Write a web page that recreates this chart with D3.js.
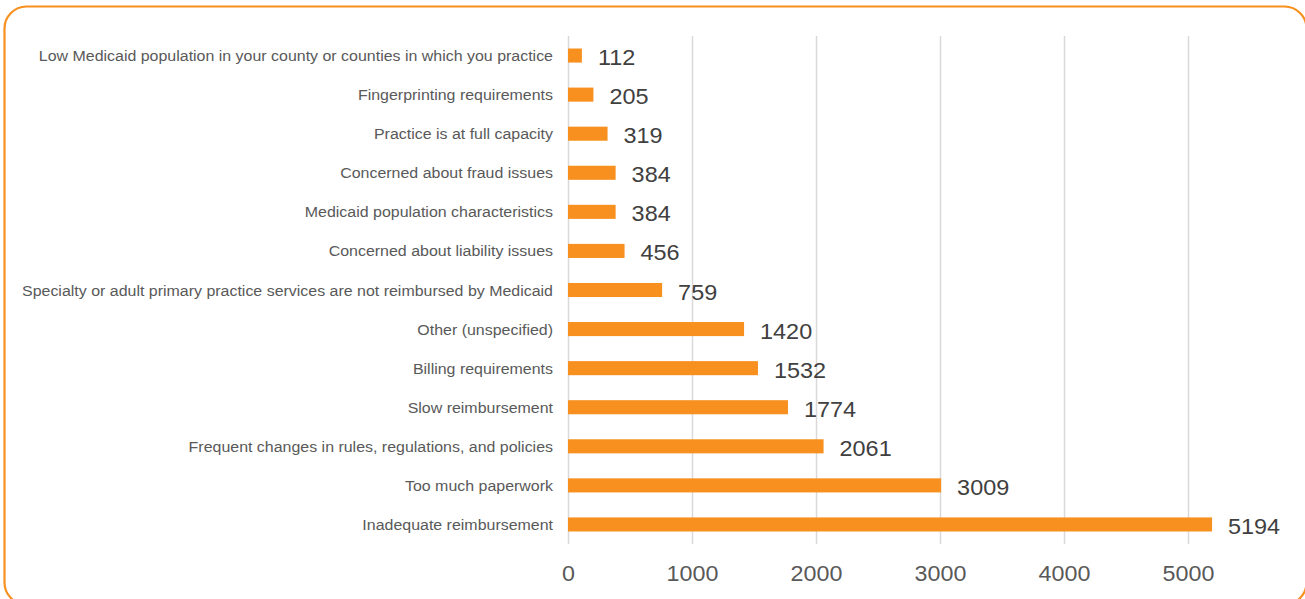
<!DOCTYPE html>
<html><head><meta charset="utf-8">
<script src="https://cdn.jsdelivr.net/npm/d3@7"></script>
<style>body{margin:0;background:#fff;}svg{display:block;font-family:"Liberation Sans",Arial,sans-serif;}</style>
</head><body><svg id="c" width="1305" height="599"></svg>
<script>
const categories = [
 "Low Medicaid population in your county or counties in which you practice",
 "Fingerprinting requirements",
 "Practice is at full capacity",
 "Concerned about fraud issues",
 "Medicaid population characteristics",
 "Concerned about liability issues",
 "Specialty or adult primary practice services are not reimbursed by Medicaid",
 "Other (unspecified)",
 "Billing requirements",
 "Slow reimbursement",
 "Frequent changes in rules, regulations, and policies",
 "Too much paperwork",
 "Inadequate reimbursement"
];
const values = [112,205,319,384,384,456,759,1420,1532,1774,2061,3009,5194];
const tickValues = [0,1000,2000,3000,4000,5000];
const FONT = "'Liberation Sans',Arial,sans-serif";

const svg = d3.select("#c");
svg.append("rect").attr("x",4.5).attr("y",6.5).attr("width",1302).attr("height",598)
  .attr("rx",22).attr("ry",22).attr("fill","none").attr("stroke","#F7901E").attr("stroke-width",2.2);

const x = d3.scaleLinear().domain([0,5000]).range([568,1188]);
const y = d3.scaleBand().domain(categories).range([36,544]).paddingInner(0.64).paddingOuter(0.32);

svg.append("g").selectAll("line").data(tickValues).join("line")
  .attr("x1",d=>x(d)+0.5).attr("x2",d=>x(d)+0.5).attr("y1",36).attr("y2",544)
  .attr("stroke","#d9d9d9").attr("stroke-width",1.5);

const ax = svg.append("g").attr("transform","translate(0,544)")
  .call(d3.axisBottom(x).tickValues(tickValues).tickSize(0).tickPadding(0).tickFormat(d3.format("d")));
ax.select(".domain").remove();
ax.selectAll("text").attr("y",0).attr("dy",null)
  .attr("transform","translate(0,37) scale(1.06,1)")
  .attr("font-size",22).attr("fill","#595959").attr("font-family",FONT);

svg.append("g").selectAll("rect").data(values).join("rect")
  .attr("x",x(0)).attr("y",(d,i)=>y(categories[i])).attr("width",d=>x(d)-x(0))
  .attr("height",y.bandwidth()).attr("fill","#F7901E");

svg.append("g").selectAll("text").data(categories).join("text")
  .attr("transform",d=>`translate(553,${y(d)+y.bandwidth()/2+5.5}) scale(1.03,1)`)
  .attr("text-anchor","end").attr("font-size",15.5).attr("fill","#595959").attr("font-family",FONT).text(d=>d);

svg.append("g").selectAll("text").data(values).join("text")
  .attr("transform",(d,i)=>`translate(${x(d)+16},${y(categories[i])+y.bandwidth()/2+9.5}) scale(1.09,1)`)
  .attr("font-size",21.5).attr("fill","#404040").attr("font-family",FONT).text(d=>d);
</script></body></html>
